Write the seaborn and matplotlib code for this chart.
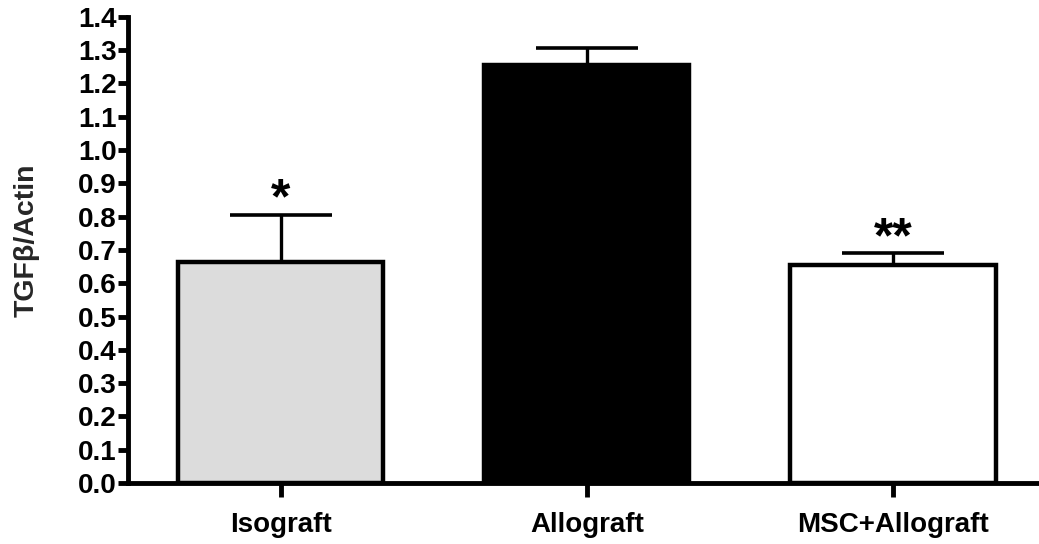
import matplotlib
matplotlib.use("Agg")
import matplotlib.pyplot as plt
import seaborn as sns
import pandas as pd

# Group means and upper SEM for TGF-beta relative to actin
groups = ["Isograft", "Allograft", "MSC+Allograft"]
means = [0.665, 1.255, 0.656]
sem = [0.140, 0.052, 0.034]
significance = ["*", "", "**"]
bar_colors = ["#dcdcdc", "#000000", "#ffffff"]
yticks = [round(0.1 * i, 1) for i in range(15)]

sns.set_theme(style="ticks")
plt.rcParams["font.family"] = ["Liberation Sans", "DejaVu Sans"]
plt.rcParams["font.weight"] = "bold"

df = pd.DataFrame({"group": groups, "mean": means})

fig = plt.figure(figsize=(10.39, 5.44), dpi=100)
ax = fig.add_axes([0.123, 0.112, 0.877, 0.857])

sns.barplot(data=df, x="group", y="mean", hue="group", palette=bar_colors,
            legend=False, width=0.67, edgecolor="black", linewidth=3.2,
            errorbar=None, ax=ax, zorder=2)

xs = list(range(len(groups)))
ax.errorbar(xs, means, yerr=[[0] * len(sem), sem], fmt="none", ecolor="black",
            elinewidth=2.4, capsize=37, capthick=2.6, zorder=1)

# significance markers just above the error caps
for x, m, e, s in zip(xs, means, sem, significance):
    if s:
        ax.text(x, m + e + 0.004, s, ha="center", va="baseline",
                fontsize=36, fontweight="bold", color="black")

ax.set_xlim(-0.5, 2.477)
ax.set_ylim(0, 1.4)
ax.set_yticks(yticks)
ax.set_yticklabels([f"{v:.1f}" for v in yticks])
ax.set_xlabel("")
ax.set_ylabel("TGFβ/Actin", fontsize=20.5, fontweight="bold")
ax.yaxis.set_label_coords(-0.097, 0.52)

for side in ["top", "right"]:
    ax.spines[side].set_visible(False)
for side in ["left", "bottom"]:
    ax.spines[side].set_linewidth(3.5)
    ax.spines[side].set_color("black")

ax.tick_params(axis="y", length=7, width=3.5, labelsize=20, pad=1, colors="black")
ax.tick_params(axis="x", length=10, width=3.5, labelsize=20, pad=11, colors="black")
for lab in ax.get_xticklabels() + ax.get_yticklabels():
    lab.set_fontweight("bold")

fig.savefig("out.png", dpi=100)
